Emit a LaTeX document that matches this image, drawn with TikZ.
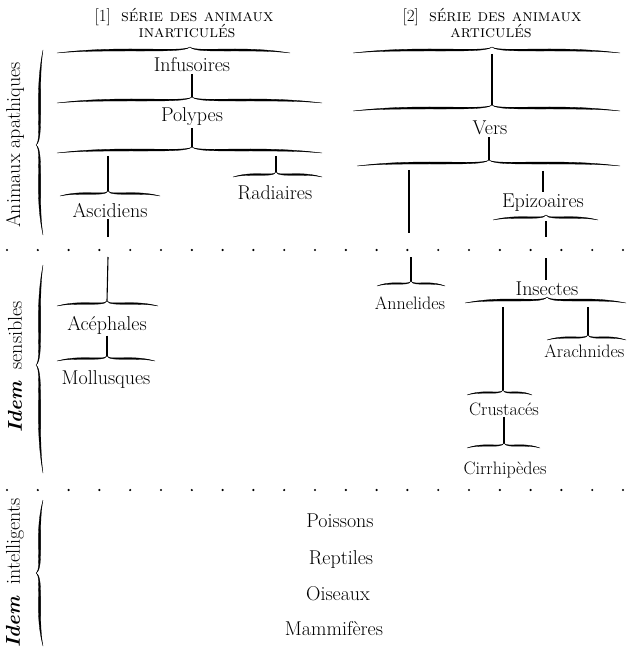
\documentclass[tikz,border=0pt]{standalone}
\usepackage{fontspec}
\newcommand\brshape[4]{%
\filldraw[bink]
 ({-(#1)},0)
 .. controls ({-0.85*(#1)},{0.35*(#3)+0.3*(#4)}) and ({-0.7*(#1)},{0.5*(#3)+(#4)}) .. ({-0.45*(#1)},{0.5*(#3)+(#4)})
 .. controls ({-0.2*(#1)},{0.5*(#3)+(#4)}) and ({-0.03*(#1)},{0.45*(#3)}) .. (0,{#3})
 .. controls ({0.03*(#2)},{0.45*(#3)}) and ({0.2*(#2)},{0.5*(#3)+(#4)}) .. ({0.45*(#2)},{0.5*(#3)+(#4)})
 .. controls ({0.7*(#2)},{0.5*(#3)+(#4)}) and ({0.85*(#2)},{0.35*(#3)+0.3*(#4)}) .. ({#2},0)
 .. controls ({0.85*(#2)},{0.35*(#3)-0.3*(#4)}) and ({0.7*(#2)},{0.5*(#3)-(#4)}) .. ({0.45*(#2)},{0.5*(#3)-(#4)})
 .. controls ({0.2*(#2)},{0.5*(#3)-(#4)}) and ({0.03*(#2)},{0.45*(#3)-(#4)}) .. (0,{#3})
 .. controls ({-0.03*(#1)},{0.45*(#3)-(#4)}) and ({-0.2*(#1)},{0.5*(#3)-(#4)}) .. ({-0.45*(#1)},{0.5*(#3)-(#4)})
 .. controls ({-0.7*(#1)},{0.5*(#3)-(#4)}) and ({-0.85*(#1)},{0.35*(#3)-0.3*(#4)}) .. ({-(#1)},0) -- cycle;}
% horizontal brace, tip up: x1, xtip, x2, yend(px), amplitude, half-thickness
\newcommand\hbr[6]{\begin{scope}[shift={(#2,-#4)}]\brshape{#2-#1}{#3-#2}{#5}{#6}\end{scope}}
% vertical brace, tip left: ytop, ytip, ybottom, xend, amplitude, half-thickness
\newcommand\vbr[6]{\begin{scope}[shift={(#4,-#2)},rotate=90]\brshape{#3-#2}{#2-#1}{#5}{#6}\end{scope}}
\begin{document}
\begin{tikzpicture}[x=1pt,y=1pt,
  bink/.style={fill=black,draw=black,line width=0.3pt},
  lab/.style={font=\fontsize{20}{24}\selectfont\addfontfeatures{LetterSpace=3,FakeBold=0.6},inner sep=1.5pt,anchor=base},
  slab/.style={font=\fontsize{18}{22}\selectfont\addfontfeatures{FakeBold=0.6},inner sep=1.5pt,anchor=base},
  hdr/.style={font=\fontsize{17}{20}\selectfont\addfontfeatures{LetterSpace=8,FakeBold=0.4},inner sep=0pt,anchor=base},
  side/.style={font=\fontsize{20}{24}\selectfont\addfontfeatures{FakeBold=0.6},inner sep=0pt,rotate=90},
  conn/.style={line width=1.1pt},
  dot/.style={fill=black}]
\useasboundingbox (0,0) rectangle (626,-647);

% headers
\node[hdr] (h1a) at (184,-22) {[1]\ \ \textsc{série des animaux}};
\node[hdr] (h1b) at (187,-38) {\textsc{inarticulés}};
\node[hdr] (h2a) at (492,-22) {[2]\ \ \textsc{série des animaux}};
\node[hdr] (h2b) at (491,-38) {\textsc{articulés}};

% side labels
\node[side] (s1) at (15,-145) {Animaux apathiques};
\node[side] (s2) at (15,-367) {\textbf{\textit{Idem}}\ \ sensibles};
\node[side] (s3) at (15,-573) {\textbf{\textit{Idem}}\ \ intelligents};

% side braces
\vbr{50}{145}{235}{43}{7}{1.1}
\vbr{265}{365}{473}{43}{7}{1.1}
\vbr{500}{573}{646}{43}{7}{1.1}

% dotted rows
\foreach \i in {0,...,20} {
  \fill[dot] ({7+30.8*\i},-250) circle (1.2);
  \fill[dot] ({7+30.8*\i},-490) circle (1.2);
}

% labels
\node[lab] (infus) at (192,-72) {Infusoires};
\node[lab] (polyp) at (192,-122) {Polypes};
\node[lab] (radia) at (275,-199) {Radiaires};
\node[lab] (ascid) at (110,-217) {Ascidiens};
\node[lab] (aceph) at (107,-330) {Acéphales};
\node[lab] (mollu) at (106,-384) {Mollusques};
\node[lab] (vers) at (490,-135) {Vers};
\node[lab] (epizo) at (543,-207) {Epizoaires};
\node[slab] (annel) at (410,-309) {Annelides};
\node[lab] (insec) at (547,-295) {Insectes};
\node[slab,anchor=base east] (arach) at (626,-357) {Arachnides};
\node[slab] (crust) at (504,-415) {Crustacés};
\node[slab] (cirrh) at (505,-474) {Cirrhipèdes};
\node[lab] (poiss) at (340,-527) {Poissons};
\node[lab] (rept) at (341,-564) {Reptiles};
\node[lab] (ois) at (338,-600) {Oiseaux};
\node[lab] (mamm) at (334,-635) {Mammifères};

% braces
\hbr{57}{190}{290}{53}{6}{1.0}
\hbr{57}{192}{322}{103}{6}{1.0}
\hbr{57}{192}{322}{153}{6}{1.0}
\hbr{233}{276}{322}{177}{5}{0.8}
\hbr{60}{108}{160}{196}{5}{0.8}
\hbr{57}{107}{158}{306}{5}{0.8}
\hbr{57}{107}{155}{361}{5}{0.8}
\hbr{353}{492}{620}{53}{6}{1.0}
\hbr{353}{492}{620}{111}{6}{1.0}
\hbr{357}{489}{620}{166}{6}{1.0}
\hbr{493}{546}{598}{220}{5}{0.8}
\hbr{377}{411}{445}{286}{5}{0.7}
\hbr{465}{547}{626}{303}{6}{1.0}
\hbr{547}{588}{626}{340}{5}{0.7}
\hbr{467}{503}{532}{395}{5}{0.7}
\hbr{467}{504}{540}{448}{5}{0.7}

% brace tips and connector ends
\coordinate (tL2) at (192,-97);
\coordinate (tL3) at (192,-147);
\coordinate (bL3a) at (108,-156);
\coordinate (bL3b) at (276,-156);
\coordinate (tRad) at (276,-172);
\coordinate (tAsc) at (108,-191);
\coordinate (gA1) at (108,-237);
\coordinate (gA2) at (108,-257);
\coordinate (tAce) at (107,-301);
\coordinate (tMol) at (107,-356);
\coordinate (bR1) at (492,-54);
\coordinate (tR2) at (492,-105);
\coordinate (tR3) at (489,-160);
\coordinate (bR3a) at (409,-170);
\coordinate (gB1) at (409,-233);
\coordinate (gB2) at (411,-257);
\coordinate (tAnn) at (411,-281);
\coordinate (bR3b) at (543,-171);
\coordinate (bEpi) at (546,-221);
\coordinate (gC1) at (546,-237);
\coordinate (gC2) at (546,-258);
\coordinate (bInsa) at (503,-307);
\coordinate (bInsb) at (588,-307);
\coordinate (tCru) at (503,-390);
\coordinate (tAra) at (588,-335);
\coordinate (tCir) at (504,-443);

% connectors
\draw[conn] (tL2 |- infus.south) -- (tL2);
\draw[conn] (tL3 |- polyp.south) -- (tL3);
\draw[conn] (bL3a) -- (tAsc);
\draw[conn] (bL3b) -- (tRad);
\draw[conn] (ascid.south -| gA1) -- (gA1);
\draw[conn] (gA2) -- (tAce);
\draw[conn] (aceph.south -| tMol) -- (tMol);
\draw[conn] (bR1) -- (tR2);
\draw[conn] (tR3 |- vers.south) -- (tR3);
\draw[conn] (bR3a) -- (gB1);
\draw[conn] (gB2) -- (tAnn);
\draw[conn] (bR3b) -- (bR3b |- epizo.north);
\draw[conn] (bEpi) -- (gC1);
\draw[conn] (gC2) -- (gC2 |- insec.north);
\draw[conn] (bInsa) -- (tCru);
\draw[conn] (bInsb) -- (tAra);
\draw[conn] (crust.south -| tCir) -- (tCir);
\end{tikzpicture}
\end{document}
